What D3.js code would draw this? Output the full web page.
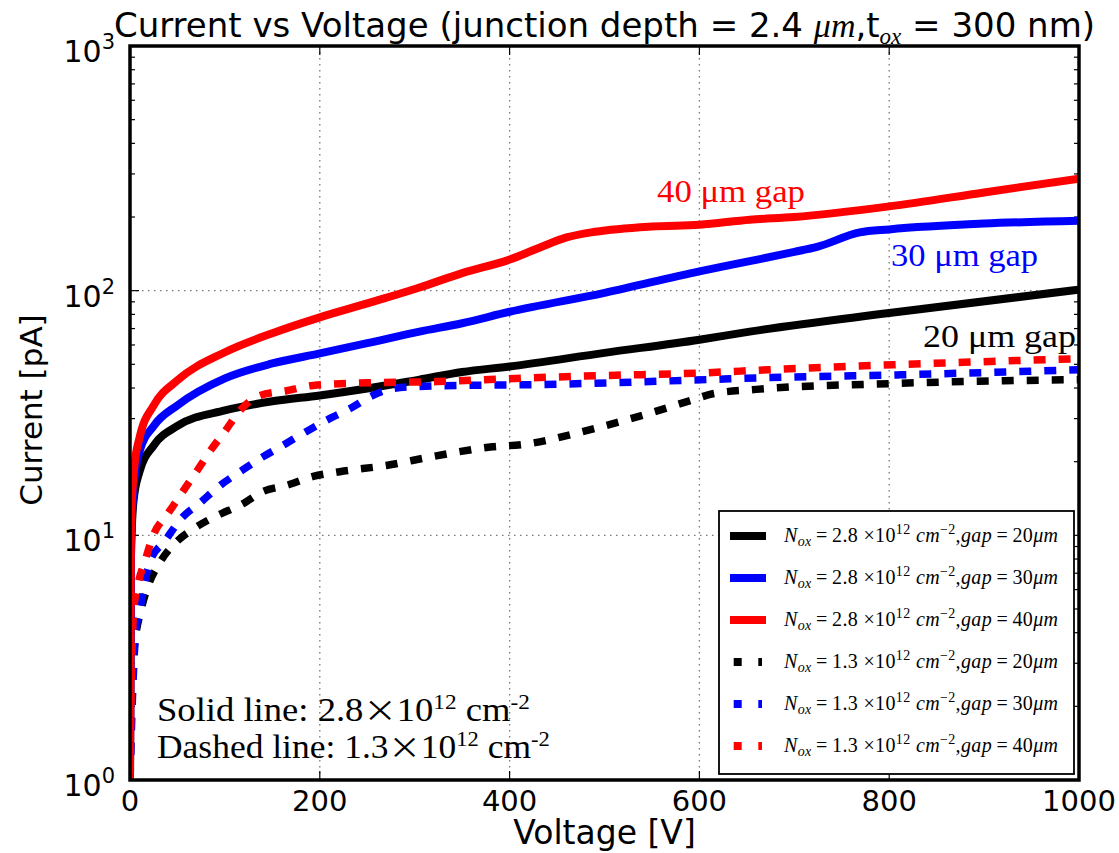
<!DOCTYPE html>
<html>
<head>
<meta charset="utf-8">
<script src="https://cdn.jsdelivr.net/npm/d3@7"></script>
<style>
  body { margin: 0; background: #fff; }
  svg { display: block; }
</style>
</head>
<body>
<svg id="chart" width="1119" height="853"></svg>
<script>
// ---- data (voltage in V, current in pA) ----
var vSolid20 = [0, 1, 3.5, 10, 25, 50, 100, 150, 200, 250, 305, 350, 400, 500, 600, 653, 800, 1000];
var iSolid20 = [1, 8, 13.6, 18.2, 23.3, 28, 32.4, 35.3, 37.3, 39.8, 43.3, 46.5, 49, 55.7, 63, 68, 81, 101];

var vSolid30 = [0, 1, 4, 10, 25, 50, 100, 150, 200, 250, 305, 350, 400, 500, 600, 653, 700, 724, 769, 800, 900, 1000];
var iSolid30 = [1, 9, 16, 22, 28, 34, 43.8, 50.4, 55.4, 61, 68, 73.6, 82, 98, 120, 132, 144, 151, 173, 178, 188, 193];

var vSolid40 = [0, 1, 4.5, 10, 25, 50, 100, 150, 200, 250, 305, 350, 400, 430, 460, 490, 550, 600, 653, 700, 800, 900, 1000];
var iSolid40 = [1, 11, 19, 25, 34, 43, 56, 67, 77.8, 88.7, 103, 118, 134, 149, 165, 174, 183, 186, 195, 200, 221, 252, 287];

var vDash20 = [0, 2, 4, 12, 19, 31, 49, 68, 91, 118, 140, 165, 193, 221, 270, 319, 382, 413, 492, 541, 593, 614, 660, 801, 1000];
var iDash20 = [1, 2.5, 3.3, 5, 6.2, 7.7, 9.4, 10.7, 12, 13.4, 15.1, 16, 17.4, 18.2, 19.3, 21, 23, 23.5, 27.5, 31, 35.8, 37.9, 39.5, 41.7, 43.3];

var vDash30 = [0, 3, 6, 10.5, 21, 37, 53, 74, 95, 116, 137, 161, 186, 207, 232, 256, 277, 305, 355, 425, 608, 660, 812, 1000];
var iDash30 = [1, 2.4, 4, 5, 7.8, 9.5, 11.6, 13.6, 16, 18.2, 20.6, 23.3, 26.6, 29.5, 33, 37.3, 39.8, 40.6, 41, 41.3, 43.3, 44, 45.3, 47.5];

var vDash40 = [0, 1, 2, 4, 8, 16, 24, 40, 50, 60, 70, 84, 100, 116, 137, 165, 193, 250, 324, 420, 500, 597, 672, 804, 1000];
var iDash40 = [1, 2, 3.2, 5, 6.2, 7.9, 9.9, 12.3, 14, 16, 18.2, 22, 26.6, 32.4, 37.3, 39, 41, 42, 42.5, 44, 45, 46, 47.5, 49.8, 52.7];

var xTicks = [0, 200, 400, 600, 800, 1000];
var yDecades = [1, 10, 100, 1000];
var legendLabels = ["2.8", "2.8", "2.8", "1.3", "1.3", "1.3"];
var legendGaps = ["20", "30", "40", "20", "30", "40"];

var series = [
    {v: vSolid20, i: iSolid20, color: "#000000", dashed: false},
    {v: vSolid30, i: iSolid30, color: "#0000ff", dashed: false},
    {v: vSolid40, i: iSolid40, color: "#ff0000", dashed: false},
    {v: vDash20, i: iDash20, color: "#000000", dashed: true},
    {v: vDash30, i: iDash30, color: "#0000ff", dashed: true},
    {v: vDash40, i: iDash40, color: "#ff0000", dashed: true}
];

// plot box (note: "top" is reserved on window, so prefixed names)
var pLeft = 130, pRight = 1079, pTop = 46, pBottom = 780;

var x = d3.scaleLinear().domain([0, 1000]).range([pLeft, pRight]);
var y = d3.scaleLog().domain([1, 1000]).range([pBottom, pTop]);

var svg = d3.select("#chart");
var sans = "'DejaVu Sans', sans-serif";
var serif = "'Liberation Serif', 'Times New Roman', serif";

svg.append("defs").append("clipPath").attr("id", "plot-clip")
    .append("rect")
    .attr("x", pLeft).attr("y", pTop)
    .attr("width", pRight - pLeft).attr("height", pBottom - pTop);

// grid (dotted, only inner major lines)
var grid = svg.append("g").attr("stroke", "#777").attr("stroke-width", 1.3)
    .attr("stroke-dasharray", "1.5,4.5");
grid.selectAll("line.gx")
    .data(xTicks.slice(1, -1))
    .enter().append("line")
    .attr("x1", function(d) { return x(d); }).attr("x2", function(d) { return x(d); })
    .attr("y1", pTop).attr("y2", pBottom);
grid.selectAll("line.gy")
    .data(yDecades.slice(1, -1))
    .enter().append("line")
    .attr("y1", function(d) { return y(d); }).attr("y2", function(d) { return y(d); })
    .attr("x1", pLeft).attr("x2", pRight);

// ticks, all pointing inwards, on all four sides
var minor = [];
yDecades.slice(0, -1).forEach(function(d) {
    for (var k = 2; k <= 9; k++) minor.push(d * k);
});
var ticks = svg.append("g").attr("stroke", "#000").attr("stroke-width", 1.2);
[pLeft, pRight].forEach(function(edge) {
    var dir = edge === pLeft ? 1 : -1;
    ticks.selectAll(null).data(yDecades).enter().append("line")
        .attr("x1", edge).attr("x2", edge + dir * 9)
        .attr("y1", function(d) { return y(d); }).attr("y2", function(d) { return y(d); });
    ticks.selectAll(null).data(minor).enter().append("line")
        .attr("x1", edge).attr("x2", edge + dir * 5)
        .attr("y1", function(d) { return y(d); }).attr("y2", function(d) { return y(d); });
});
[pTop, pBottom].forEach(function(edge) {
    var dir = edge === pBottom ? -1 : 1;
    ticks.selectAll(null).data(xTicks).enter().append("line")
        .attr("x1", function(d) { return x(d); }).attr("x2", function(d) { return x(d); })
        .attr("y1", edge).attr("y2", edge + dir * 9);
});

// curves
var line = d3.line()
    .x(function(d) { return x(d[0]); })
    .y(function(d) { return y(d[1]); })
    .curve(d3.curveMonotoneX);

svg.append("g").attr("clip-path", "url(#plot-clip)")
    .selectAll("path")
    .data(series)
    .enter().append("path")
    .attr("d", function(s) { return line(s.v.map(function(v, k) { return [v, s.i[k]]; })); })
    .attr("fill", "none")
    .attr("stroke", function(s) { return s.color; })
    .attr("stroke-width", function(s) { return s.dashed ? 7.5 : 8; })
    .attr("stroke-dasharray", function(s) { return s.dashed ? "12,13" : null; })
    .attr("stroke-linejoin", "round");

// frame
svg.append("rect")
    .attr("x", pLeft).attr("y", pTop)
    .attr("width", pRight - pLeft).attr("height", pBottom - pTop)
    .attr("fill", "none").attr("stroke", "#000").attr("stroke-width", 3.5);

// tick labels
svg.append("g").selectAll("text")
    .data(xTicks)
    .enter().append("text")
    .attr("x", function(d) { return x(d); })
    .attr("y", pBottom + 31)
    .attr("text-anchor", "middle")
    .attr("font-family", sans).attr("font-size", 29)
    .text(function(d) { return d; });

var yl = svg.append("g").selectAll("text")
    .data(yDecades)
    .enter().append("text")
    .attr("x", pLeft - 15)
    .attr("y", function(d) { return y(d) + 16; })
    .attr("text-anchor", "end")
    .attr("font-family", sans).attr("font-size", 30);
yl.append("tspan").text("10");
yl.append("tspan").attr("font-size", 21).attr("dy", -13)
    .text(function(d) { return Math.round(Math.log10(d)); });

// axis titles
svg.append("text")
    .attr("x", (pLeft + pRight) / 2).attr("y", 844)
    .attr("text-anchor", "middle")
    .attr("font-family", sans).attr("font-size", 33)
    .text("Voltage [V]");
svg.append("text")
    .attr("transform", "translate(42,410) rotate(-90)")
    .attr("text-anchor", "middle")
    .attr("font-family", sans).attr("font-size", 31)
    .text("Current [pA]");

// title
var title = svg.append("text")
    .attr("x", (pLeft + pRight) / 2).attr("y", 37)
    .attr("text-anchor", "middle")
    .attr("font-family", sans).attr("font-size", 34);
title.append("tspan").text("Current vs Voltage (junction depth = 2.4 ");
title.append("tspan").attr("font-family", serif).attr("font-style", "italic").text("\u03bcm");
title.append("tspan").text(",t");
title.append("tspan").attr("font-family", serif).attr("font-style", "italic")
    .attr("font-size", 23).attr("dy", 7).text("ox");
title.append("tspan").attr("dy", -7).text(" = 300 nm)");

// in-plot annotations
var notes = [
    {t: "40 \u03bcm gap", c: "#ff0000", x: 657, y: 202, w: 148},
    {t: "30 \u03bcm gap", c: "#0000ff", x: 891, y: 266, w: 147},
    {t: "20 \u03bcm gap", c: "#000000", x: 923, y: 347, w: 153}
];
svg.append("g").selectAll("text")
    .data(notes)
    .enter().append("text")
    .attr("x", function(d) { return d.x; })
    .attr("y", function(d) { return d.y; })
    .attr("fill", function(d) { return d.c; })
    .attr("font-family", serif).attr("font-size", 32)
    .attr("textLength", function(d) { return d.w; })
    .attr("lengthAdjust", "spacingAndGlyphs")
    .text(function(d) { return d.t; });

// doping notes; stretched sideways to the width seen in the picture
var densities = [["Solid line: 2.8", 721, 373], ["Dashed line: 1.3", 758, 393]];
var dn = svg.append("g").selectAll("text")
    .data(densities)
    .enter().append("text")
    .attr("x", 0).attr("y", 0)
    .attr("font-family", serif).attr("font-size", 33);
dn.append("tspan").text(function(d) { return d[0]; });
dn.append("tspan").attr("font-family", "'Noto Sans CJK JP'").attr("font-size", 30).text("\u00d7");
dn.append("tspan").text("10");
dn.append("tspan").attr("font-size", 21).attr("dy", -12).text("12");
dn.append("tspan").attr("dy", 12).text(" cm");
dn.append("tspan").attr("font-size", 21).attr("dy", -12).text("-2");
dn.attr("transform", function(d) {
    var w = this.getBBox().width;
    return "translate(157," + d[1] + ") scale(" + (d[2] / w) + ",1)";
});

// legend
var lg = svg.append("g");
lg.append("rect")
    .attr("x", 719).attr("y", 511)
    .attr("width", 355).attr("height", 263)
    .attr("fill", "#fff").attr("stroke", "#000").attr("stroke-width", 1.8);

var rows = lg.selectAll("g.row")
    .data(series)
    .enter().append("g")
    .attr("transform", function(d, k) { return "translate(0," + (536 + k * 42) + ")"; });

rows.append("line")
    .attr("x1", function(s) { return s.dashed ? 733.7 : 730; })
    .attr("x2", function(s) { return s.dashed ? 762 : 766; })
    .attr("stroke", function(s) { return s.color; })
    .attr("stroke-width", 8)
    .attr("stroke-dasharray", function(s) { return s.dashed ? "8,16.6" : null; });

var thin = "\u2009";
var lt = rows.append("text")
    .attr("x", 784).attr("y", 6)
    .attr("font-family", serif).attr("font-size", 20)
    .attr("textLength", 274).attr("lengthAdjust", "spacing");
lt.append("tspan").attr("font-style", "italic").text("N");
lt.append("tspan").attr("font-style", "italic").attr("font-size", 14).attr("dy", 4).text("ox");
lt.append("tspan").attr("dy", -4).text(function(d, k) { return thin + "=" + thin + legendLabels[k] + " \u00d710"; });
lt.append("tspan").attr("font-size", 14).attr("dy", -8).text("12");
lt.append("tspan").attr("dy", 8).attr("font-style", "italic").text(" cm");
lt.append("tspan").attr("font-size", 14).attr("dy", -8).text("\u22122");
lt.append("tspan").attr("dy", 8).attr("font-style", "italic").text(",gap");
lt.append("tspan").text(function(d, k) { return thin + "=" + thin + legendGaps[k]; });
lt.append("tspan").attr("font-style", "italic").text("\u03bcm");
</script>
</body>
</html>
